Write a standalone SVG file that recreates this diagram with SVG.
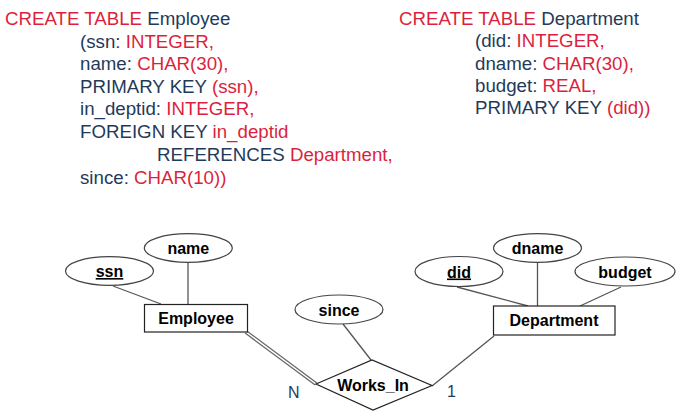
<svg xmlns="http://www.w3.org/2000/svg" width="688" height="420" viewBox="0 0 688 420">
<style>
.code{font-family:"Liberation Sans",Arial,sans-serif;font-size:18.7px;fill:#1f3b5a}
.r{fill:#dc1f3c}
.lbl{font-family:"Liberation Sans",Arial,sans-serif;font-size:16px;font-weight:bold;fill:#000;text-anchor:middle}
.card{font-family:"Liberation Sans",Arial,sans-serif;font-size:16px;fill:#1f3b5a}
.ell{fill:#fff;stroke:#444;stroke-width:1.2}
.box{fill:#fff;stroke:#222;stroke-width:1.2}
.ln{stroke:#555;stroke-width:1.3;fill:none}
</style>
<rect width="688" height="420" fill="#fff"/>
<g id="sql-employee">
<text class="code" x="5" y="25"><tspan class="r">CREATE TABLE</tspan> Employee</text>
<text class="code" x="80" y="47.7">(ssn: <tspan class="r">INTEGER,</tspan></text>
<text class="code" x="80" y="70.3">name: <tspan class="r">CHAR(30),</tspan></text>
<text class="code" x="80" y="92.8">PRIMARY KEY <tspan class="r">(ssn),</tspan></text>
<text class="code" x="80" y="115.3">in_deptid: <tspan class="r">INTEGER,</tspan></text>
<text class="code" x="80" y="138">FOREIGN KEY <tspan class="r">in_deptid</tspan></text>
<text class="code" x="157" y="160.7">REFERENCES <tspan class="r">Department,</tspan></text>
<text class="code" x="80" y="184">since: <tspan class="r">CHAR(10))</tspan></text>
</g>
<g id="sql-department">
<text class="code" x="399" y="25"><tspan class="r">CREATE TABLE</tspan> Department</text>
<text class="code" x="475" y="47.3">(did: <tspan class="r">INTEGER,</tspan></text>
<text class="code" x="475" y="69.7">dname: <tspan class="r">CHAR(30),</tspan></text>
<text class="code" x="475" y="92">budget: <tspan class="r">REAL,</tspan></text>
<text class="code" x="475" y="114.3">PRIMARY KEY <tspan class="r">(did))</tspan></text>
</g>
<g id="connectors">
<line class="ln" x1="113" y1="286" x2="161" y2="304"/>
<line class="ln" x1="188" y1="262" x2="188" y2="304" stroke="#111"/>
<line x1="246" y1="332" x2="316" y2="384" stroke="#666" stroke-width="4"/>
<line x1="246" y1="332" x2="316" y2="384" stroke="#fff" stroke-width="1.5"/>
<line class="ln" x1="343" y1="324" x2="371" y2="360"/>
<line class="ln" x1="494" y1="336" x2="432" y2="386"/>
<line class="ln" x1="457" y1="287" x2="528" y2="306"/>
<line class="ln" x1="537.5" y1="262" x2="537.5" y2="306"/>
<line class="ln" x1="621" y1="287" x2="580" y2="306"/>
</g>
<g id="ssn"><ellipse class="ell" cx="109.5" cy="271" rx="44" ry="14.3"/><text class="lbl" x="109.5" y="277" text-decoration="underline">ssn</text></g>
<g id="name"><ellipse class="ell" cx="188.3" cy="248" rx="44" ry="14.3"/><text class="lbl" x="188.3" y="254">name</text></g>
<g id="Employee"><rect class="box" x="144.5" y="304.5" width="103" height="27.5"/><text class="lbl" x="196" y="324">Employee</text></g>
<g id="since"><ellipse class="ell" cx="339" cy="309.5" rx="44" ry="14.5"/><text class="lbl" x="339" y="315.5">since</text></g>
<g id="Works_In"><polygon class="box" points="316,384 372,360 432,385.5 373,410"/><text class="lbl" x="373" y="390.5">Works_In</text></g>
<g id="did"><ellipse class="ell" cx="459" cy="271.5" rx="44" ry="15"/><text class="lbl" x="459" y="277.5" text-decoration="underline">did</text></g>
<g id="dname"><ellipse class="ell" cx="537.5" cy="248" rx="44" ry="14.3"/><text class="lbl" x="537.5" y="254">dname</text></g>
<g id="budget"><ellipse class="ell" cx="625" cy="271.5" rx="50" ry="14.5"/><text class="lbl" x="625" y="277.5">budget</text></g>
<g id="Department"><rect class="box" x="493.5" y="306" width="121.5" height="29"/><text class="lbl" x="554" y="326">Department</text></g>
<text class="card" x="288" y="398">N</text>
<text class="card" x="447" y="397">1</text>
</svg>
